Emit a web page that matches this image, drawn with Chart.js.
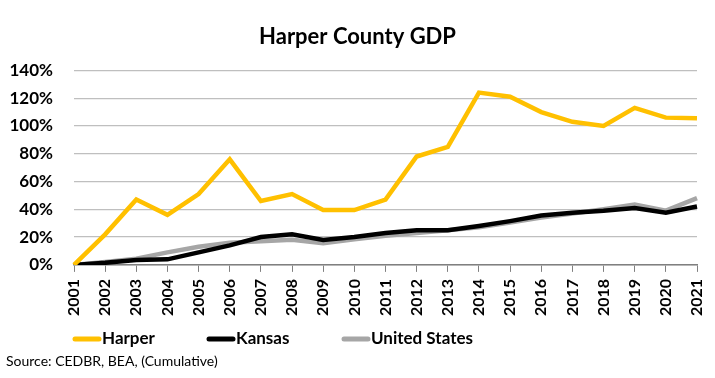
<!DOCTYPE html>
<html>
<head>
<meta charset="utf-8">
<script src="https://cdn.jsdelivr.net/npm/chart.js@4.4.1/dist/chart.umd.min.js"></script>
<style>
  html, body { margin: 0; padding: 0; background: #fff; }
  #wrap { width: 715px; height: 378px; position: relative; }
</style>
</head>
<body>
<div id="wrap"><canvas id="gdpChart" width="715" height="378"></canvas></div>
<script>
// years on the x axis
const years = ["2001", "2002", "2003", "2004", "2005", "2006", "2007", "2008", "2009", "2010", "2011",
  "2012", "2013", "2014", "2015", "2016", "2017", "2018", "2019", "2020", "2021"];

// cumulative GDP growth, percent
const harper = [0, 22, 47, 36, 51, 76, 46, 51, 39.5, 39.5, 47, 78, 85, 124, 121, 110, 103, 100, 113, 106, 105.5];
const kansas = [0, 1.5, 3.5, 4, 9, 14, 20, 22, 18, 20, 23, 25, 25, 28, 31.5, 35.5, 37.5, 39, 41, 37.5, 42];
const unitedStates = [0, 2, 4.5, 9, 13, 16, 17, 18, 15.5, 18.5, 21, 23, 25, 27, 30.5, 34, 37, 40, 43.5, 39, 48];

const chartTitle = "Harper County GDP";
const sourceNote = "Source: CEDBR, BEA, (Cumulative)";

const font = "Lato, 'Open Sans', sans-serif";

// draws the legend row and source line under the x axis
const footerPlugin = {
  id: "footer",
  afterDraw(chart) {
    const ctx = chart.ctx;
    const legendX = [73, 207, 342];
    const y = 339;
    ctx.save();
    chart.data.datasets.forEach((ds, i) => {
      ctx.strokeStyle = ds.borderColor;
      ctx.lineWidth = 5;
      ctx.lineCap = "round";
      ctx.beginPath();
      ctx.moveTo(legendX[i] + 2, y);
      ctx.lineTo(legendX[i] + 26, y);
      ctx.stroke();
      ctx.fillStyle = "#000";
      ctx.font = "bold 17px " + font;
      ctx.textBaseline = "middle";
      ctx.textAlign = "left";
      ctx.fillText(ds.label, legendX[i] + 29, y);
    });
    ctx.font = "14px " + font;
    ctx.fillStyle = "#000";
    ctx.fillText(sourceNote, 6, 361);
    ctx.restore();
  },
};

new Chart(document.getElementById("gdpChart").getContext("2d"), {
  type: "line",
  data: {
    labels: years,
    datasets: [
      { label: "Harper", data: harper, borderColor: "#FFC000", backgroundColor: "#FFC000" },
      { label: "Kansas", data: kansas, borderColor: "#000000", backgroundColor: "#000000" },
      { label: "United States", data: unitedStates, borderColor: "#A6A6A6", backgroundColor: "#A6A6A6" },
    ],
  },
  options: {
    responsive: false,
    animation: false,
    elements: {
      line: { borderWidth: 4.5, tension: 0, borderJoinStyle: "miter" },
      point: { radius: 0 },
    },
    layout: { padding: { left: 0, right: 0, top: 14, bottom: 55 } },
    scales: {
      x: {
        offset: false,
        afterFit: (scale) => { scale.paddingRight = 18; scale.paddingLeft = 0; },
        grid: { drawOnChartArea: false, drawTicks: true, tickLength: 7, color: "#808080" },
        border: { color: "#808080", width: 1.5 },
        ticks: {
          minRotation: 90,
          maxRotation: 90,
          autoSkip: false,
          color: "#000",
          padding: 7,
          font: { family: font, size: 16, weight: "bold" },
        },
      },
      y: {
        min: 0,
        max: 140,
        afterFit: (scale) => { scale.width = 74; },
        grid: { color: "#BFBFBF", lineWidth: 1.3, drawTicks: false },
        border: { display: false },
        ticks: {
          stepSize: 20,
          padding: 21,
          color: "#000",
          font: { family: font, size: 17, weight: "bold" },
          callback: (v) => v + "%",
        },
      },
    },
    plugins: {
      legend: { display: false },
      tooltip: { enabled: false },
      title: {
        display: true,
        text: chartTitle,
        color: "#000",
        font: { family: font, size: 22, weight: "bold" },
        padding: { top: 10, bottom: 20 },
      },
    },
  },
  plugins: [footerPlugin],
});
</script>
</body>
</html>
